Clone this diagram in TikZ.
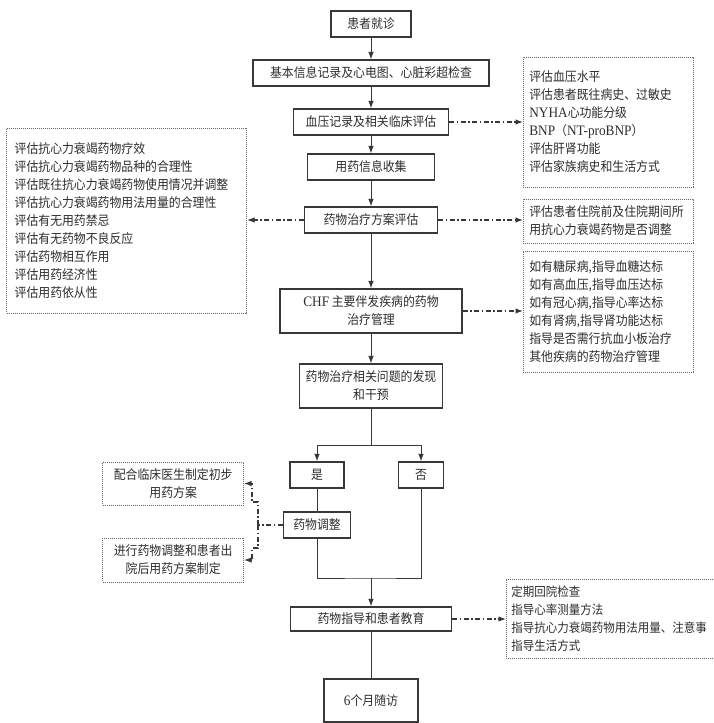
\documentclass[tikz,border=0pt]{standalone}
\usepackage{fontspec}
\setmainfont{Noto Sans CJK SC}[FakeStretch=0.92]
\newfontfamily\lat{Liberation Serif}[Scale=1.12,FakeStretch=0.92]
\usetikzlibrary{arrows.meta}
\definecolor{ln}{HTML}{383838}
\definecolor{tx}{HTML}{2E2E2E}
\definecolor{dt}{HTML}{666666}
\begin{document}
\begin{tikzpicture}[x=1pt,y=-1pt,
  font=\fontsize{12.9}{18}\selectfont, text=tx,
  mainbox/.style={draw=ln, line width=1.1pt, inner sep=0pt, align=center},
  dotbox/.style={draw=dt, line width=0.7pt, dash pattern=on 0.9pt off 1.1pt, inner sep=0pt},
  flow/.style={draw=ln, line width=1pt},
  arr/.style={flow, -{Latex[length=7.5pt,width=5.5pt]}},
  dd/.style={draw=ln, line width=1.2pt, dash pattern=on 5pt off 2.5pt on 1.5pt off 2.5pt},
  dda/.style={dd, -{Latex[length=7.5pt,width=5.5pt]}}]
\useasboundingbox (0,0) rectangle (714,723);
\fill[white] (0,0) rectangle (714,723);

% main column
\node[mainbox, minimum width=80pt, minimum height=26pt] (n1) at (371,24) {患者就诊};
\node[mainbox, minimum width=236pt, minimum height=26pt] (n2) at (371,73) {基本信息记录及心电图、心脏彩超检查};
\node[mainbox, minimum width=155pt, minimum height=26pt] (n3) at (371,122) {血压记录及相关临床评估};
\node[mainbox, minimum width=127pt, minimum height=26pt] (n4) at (371,167) {用药信息收集};
\node[mainbox, minimum width=133pt, minimum height=26pt] (n5) at (371,220) {药物治疗方案评估};
\node[mainbox, minimum width=182pt, minimum height=44pt] (n6) at (371,311) {{\lat CHF} 主要伴发疾病的药物\\治疗管理};
\node[mainbox, minimum width=143pt, minimum height=44pt] (n7) at (371,386) {药物治疗相关问题的发现\\和干预};
\node[mainbox, minimum width=54pt, minimum height=26pt] (yes) at (317,475) {是};
\node[mainbox, minimum width=45pt, minimum height=26pt] (no) at (421,475) {否};
\node[mainbox, minimum width=67pt, minimum height=26pt] (adj) at (317,525) {药物调整};
\node[mainbox, minimum width=161pt, minimum height=24pt] (n8) at (371,619) {药物指导和患者教育};
\node[mainbox, minimum width=94pt, minimum height=43pt] (n9) at (371,700.5) {{\lat 6}个月随访};

% dotted side boxes
\node[dotbox, anchor=west, minimum width=170pt, minimum height=130pt, text width=158pt, inner xsep=6pt, align=left] (r1) at (523,122)
 {评估血压水平\\评估患者既往病史、过敏史\\{\lat NYHA}心功能分级\\{\lat BNP}（{\lat NT-proBNP}）\\评估肝肾功能\\评估家族病史和生活方式};
\node[dotbox, anchor=west, minimum width=170pt, minimum height=44pt, text width=158pt, inner xsep=6pt, align=left] (r2) at (523,221)
 {评估患者住院前及住院期间所\\用抗心力衰竭药物是否调整};
\node[dotbox, anchor=west, minimum width=170pt, minimum height=121pt, text width=158pt, inner xsep=6pt, align=left] (r3) at (523,311.5)
 {如有糖尿病{\lat ,}指导血糖达标\\如有高血压{\lat ,}指导血压达标\\如有冠心病{\lat ,}指导心率达标\\如有肾病{\lat ,}指导肾功能达标\\指导是否需行抗血小板治疗\\其他疾病的药物治疗管理};
\node[dotbox, anchor=east, minimum width=239pt, minimum height=185pt, text width=224pt, inner xsep=8pt, align=left] (l1) at (247,220.5)
 {评估抗心力衰竭药物疗效\\评估抗心力衰竭药物品种的合理性\\评估既往抗心力衰竭药物使用情况并调整\\评估抗心力衰竭药物用法用量的合理性\\评估有无用药禁忌\\评估有无药物不良反应\\评估药物相互作用\\评估用药经济性\\评估用药依从性};
\node[dotbox, anchor=east, minimum width=141pt, minimum height=43pt, align=center] (l2) at (244,483.5)
 {配合临床医生制定初步\\用药方案};
\node[dotbox, anchor=east, minimum width=141pt, minimum height=44pt, align=center] (l3) at (244,560)
 {进行药物调整和患者出\\院后用药方案制定};
\node[dotbox, anchor=west, minimum width=214pt, minimum height=79pt, text width=204pt, inner xsep=5pt, align=left,
  font=\fontsize{12.5}{18}\selectfont] (r4) at (506,618.5)
 {定期回院检查\\指导心率测量方法\\指导抗心力衰竭药物用法用量、注意事\\指导生活方式};

% main flow
\draw[arr] (n1) -- (n2);
\draw[arr] (n2) -- (n3);
\draw[arr] (n3) -- (n4);
\draw[arr] (n4) -- (n5);
\draw[arr] (n5) -- (n6);
\draw[arr] (n6) -- (n7);
\coordinate (j1) at (371,445);
\draw[flow] (n7.south) -- (j1);
\draw[arr] (j1) -| (yes.north);
\draw[arr] (j1) -| (no.north);
\draw[flow] (yes.south) -- (adj.north);
\coordinate (j2) at (371,578);
\draw[flow] (adj.south) |- (j2) -| (no.south);
\draw[arr] (j2) -- (n8.north);
\draw[flow] (n8.south) -- (n9.north);

% dash-dot connectors
\draw[dda] (n3.east) -- (n3.east -| r1.west);
\draw[dda] (n5.east) -- (n5.east -| r2.west);
\draw[dda] (n5.west) -- (n5.west -| l1.east);
\draw[dda] (n6.east) -- (n6.east -| r3.west);
\draw[dda] (n8.east) -- (n8.east -| r4.west);
\coordinate (k) at (258,525);
\coordinate (ku1) at (258,502);
\coordinate (ku2) at (252,502);
\coordinate (ku3) at (252,483.5);
\coordinate (kd1) at (258,548);
\coordinate (kd2) at (252,548);
\coordinate (kd3) at (252,560);
\draw[dd] (adj.west) -- (k);
\draw[dda] (k) -- (ku1) -- (ku2) -- (ku3) -- (l2.east |- ku3);
\draw[dda] (k) -- (kd1) -- (kd2) -- (kd3) -- (l3.east |- kd3);
\end{tikzpicture}
\end{document}
